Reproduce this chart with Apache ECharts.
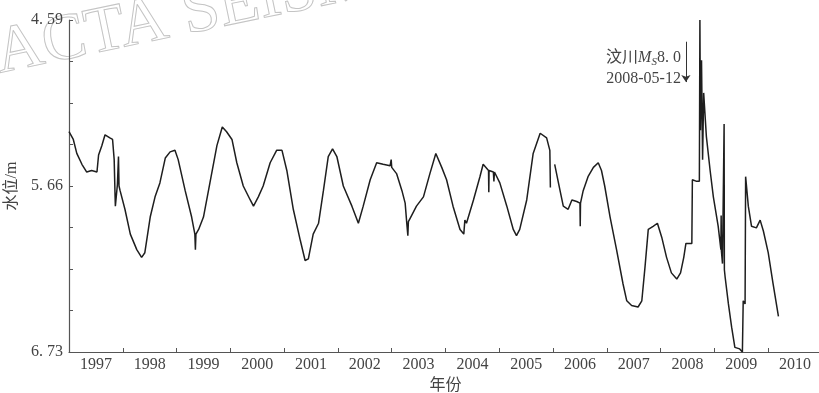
<!DOCTYPE html>
<html>
<head>
<meta charset="utf-8">
<script src="https://cdn.jsdelivr.net/npm/echarts@6/dist/echarts.min.js"></script>
<style>html,body{margin:0;padding:0;background:#fff}#c{width:819px;height:393px}</style>
</head>
<body>
<div id="c"></div>
<script>
const years = [
1997.00,1997.08,1997.145,1997.24,1997.33,1997.42,1997.52,1997.55,1997.61,1997.67,1997.76,1997.81,1997.84,1997.857,1997.862,1997.90,1997.92,1997.93,1997.95,
1998.04,1998.14,1998.26,1998.35,1998.41,1998.51,1998.60,1998.69,1998.79,1998.88,1998.97,
1999.03,1999.16,1999.28,1999.34,1999.35,1999.36,1999.41,1999.50,1999.62,1999.75,1999.85,1999.93,
2000.03,2000.12,2000.24,2000.37,2000.43,2000.52,2000.61,2000.74,2000.86,2000.96,
2001.05,2001.17,2001.30,2001.39,2001.45,2001.54,2001.64,2001.73,2001.82,2001.90,2001.98,
2002.10,2002.26,2002.38,2002.47,2002.60,2002.72,2002.84,2002.97,2002.99,
2003.00,2003.09,2003.19,2003.25,2003.28,2003.30,2003.31,2003.34,2003.46,2003.59,2003.71,2003.82,2003.93,
2004.02,2004.14,2004.27,2004.34,2004.36,2004.39,2004.52,2004.64,2004.70,2004.80,2004.805,2004.81,2004.89,2004.90,2004.91,
2005.01,2005.14,2005.26,2005.32,2005.38,2005.51,2005.63,2005.76,2005.88,2005.94,2005.95,2005.96,
2006.03,2006.10,2006.19,2006.28,2006.35,2006.44,2006.50,2006.505,2006.51,2006.56,2006.65,2006.75,2006.84,2006.90,2006.96,
2007.06,2007.18,2007.30,2007.37,2007.46,2007.58,2007.65,2007.71,2007.77,2007.86,2007.94,
2008.02,2008.11,2008.20,2008.30,2008.37,2008.43,2008.47,2008.58,2008.59,2008.67,2008.72,2008.73,2008.74,2008.76,2008.78,2008.80,2008.85,2008.92,2008.98,
2009.07,2009.12,2009.125,2009.13,2009.15,2009.18,2009.185,2009.20,2009.26,2009.32,2009.38,2009.47,2009.52,2009.535,2009.57,2009.58,2009.63,2009.69,2009.78,2009.85,2009.91,
2010.00,2010.09,2010.19
];
const levels = [
5.31,5.36,5.45,5.52,5.57,5.56,5.57,5.46,5.40,5.33,5.35,5.36,5.49,5.73,5.79,5.65,5.47,5.66,5.69,
5.81,5.97,6.07,6.12,6.09,5.86,5.73,5.64,5.48,5.44,5.43,
5.49,5.69,5.86,5.97,6.07,5.97,5.94,5.86,5.64,5.40,5.28,5.31,
5.36,5.51,5.66,5.75,5.79,5.73,5.66,5.51,5.43,5.43,
5.56,5.81,6.01,6.14,6.13,5.97,5.90,5.69,5.47,5.42,5.47,
5.66,5.79,5.90,5.79,5.62,5.51,5.52,5.53,5.49,
5.54,5.58,5.69,5.77,5.90,5.98,5.89,5.87,5.79,5.73,5.58,5.45,5.54,
5.62,5.79,5.94,5.97,5.88,5.90,5.75,5.60,5.52,5.56,5.70,5.56,5.57,5.63,5.57,
5.64,5.79,5.94,5.98,5.94,5.75,5.45,5.32,5.35,5.43,5.67,null,
5.52,5.64,5.79,5.81,5.75,5.76,5.77,5.92,5.77,5.69,5.60,5.54,5.51,5.56,5.66,
5.86,6.07,6.29,6.40,6.43,6.44,6.40,6.18,5.94,5.92,5.90,
5.99,6.12,6.22,6.26,6.22,6.12,6.03,6.03,5.62,5.63,5.63,4.59,5.30,4.85,5.49,5.06,5.34,5.56,5.73,
5.92,6.07,5.85,6.08,6.16,5.26,6.20,6.25,6.42,6.57,6.70,6.71,6.73,6.40,6.42,5.60,5.79,5.92,5.93,5.88,5.95,
6.09,6.29,6.50
];
const yTickValues = [4.59,4.8575,5.125,5.3925,5.66,5.9275,6.195,6.4625,6.73];
const yLabelValues = [4.59,5.66,6.73];
const yLabelTexts = ['4. 59','5. 66','6. 73'];
const yearLabels = ['1997','1998','1999','2000','2001','2002','2003','2004','2005','2006','2007','2008','2009','2010'];
const quakeYear = 2008.47;
const quakeArrow = [4.73, 4.99];
const quakeLabelLevel = 4.90;

const FONT = "'Liberation Serif','DejaVu Serif','Noto Sans CJK SC',serif";
const data = years.map((y,i)=>[y, levels[i]]);
const labelPos = yearLabels.map(s=>Number(s)+0.5);

const chart = echarts.init(document.getElementById('c'), null, {renderer:'canvas'});
chart.setOption({
  animation:false,
  backgroundColor:'#fff',
  grid:{left:69,right:-3,top:20,bottom:41,containLabel:false,outerBoundsMode:'none'},
  graphic:[{
    type:'text', x:3, y:88, rotation:0.205, silent:true, z:-10,
    style:{text:'ACTA SEISMOLOGICA SINICA', font:"66px 'Liberation Serif',serif",
      fill:'rgba(0,0,0,0)', stroke:'#c4c4c4', lineWidth:1, align:'left', verticalAlign:'bottom'}
  }],
  xAxis:{
    type:'value', min:1997, max:2011, interval:1,
    name:'年份', nameLocation:'middle', nameGap:20,
    nameTextStyle:{fontFamily:FONT,fontSize:16,color:'#444'},
    axisLine:{lineStyle:{color:'#555',width:1.2}},
    axisTick:{inside:true,length:4,lineStyle:{color:'#555'}},
    splitLine:{show:false},
    axisLabel:{customValues:labelPos, formatter:v=>String(Math.floor(v)), margin:5,
      fontFamily:FONT,fontSize:16,color:'#444'}
  },
  yAxis:{
    type:'value', inverse:true, min:4.59, max:6.73,
    name:'水位/m', nameLocation:'middle', nameGap:44, nameRotate:90,
    nameTextStyle:{fontFamily:FONT,fontSize:16,color:'#444'},
    axisLine:{show:true,lineStyle:{color:'#555',width:1.2}},
    axisTick:{show:true,inside:true,length:4,customValues:yTickValues,lineStyle:{color:'#555'}},
    splitLine:{show:false},
    axisLabel:{customValues:yLabelValues, margin:6,
      formatter:v=>{const i=yLabelValues.findIndex(t=>Math.abs(t-v)<1e-6);return i>=0?yLabelTexts[i]:'';},
      fontFamily:FONT,fontSize:16,color:'#444'}
  },
  series:[{
    type:'line', data:data, symbol:'none', connectNulls:false,
    lineStyle:{color:'#1e1e1e',width:1.5},
    markLine:{silent:true, symbol:['none','arrow'], symbolSize:7,
      lineStyle:{color:'#333',width:1,type:'solid'}, label:{show:false},
      data:[[{coord:[quakeYear,quakeArrow[0]]},{coord:[quakeYear,quakeArrow[1]]}]]},
    markPoint:{silent:true, symbol:'circle', symbolSize:0,
      data:[{coord:[quakeYear,quakeLabelLevel]}],
      label:{show:true, position:'left', distance:5, align:'right', lineHeight:21,
        formatter:'{c|汶川}{m|M}{s|S}{c|8. 0}\n{c|2008-05-12}',
        rich:{
          c:{fontFamily:FONT,fontSize:16,color:'#444',lineHeight:21},
          m:{fontFamily:FONT,fontSize:16,fontStyle:'italic',color:'#444',lineHeight:21},
          s:{fontFamily:FONT,fontSize:11,fontStyle:'italic',color:'#444',lineHeight:21,verticalAlign:'bottom',padding:[6,0,0,0]}
        }}}
  }]
});
</script>
</body>
</html>
